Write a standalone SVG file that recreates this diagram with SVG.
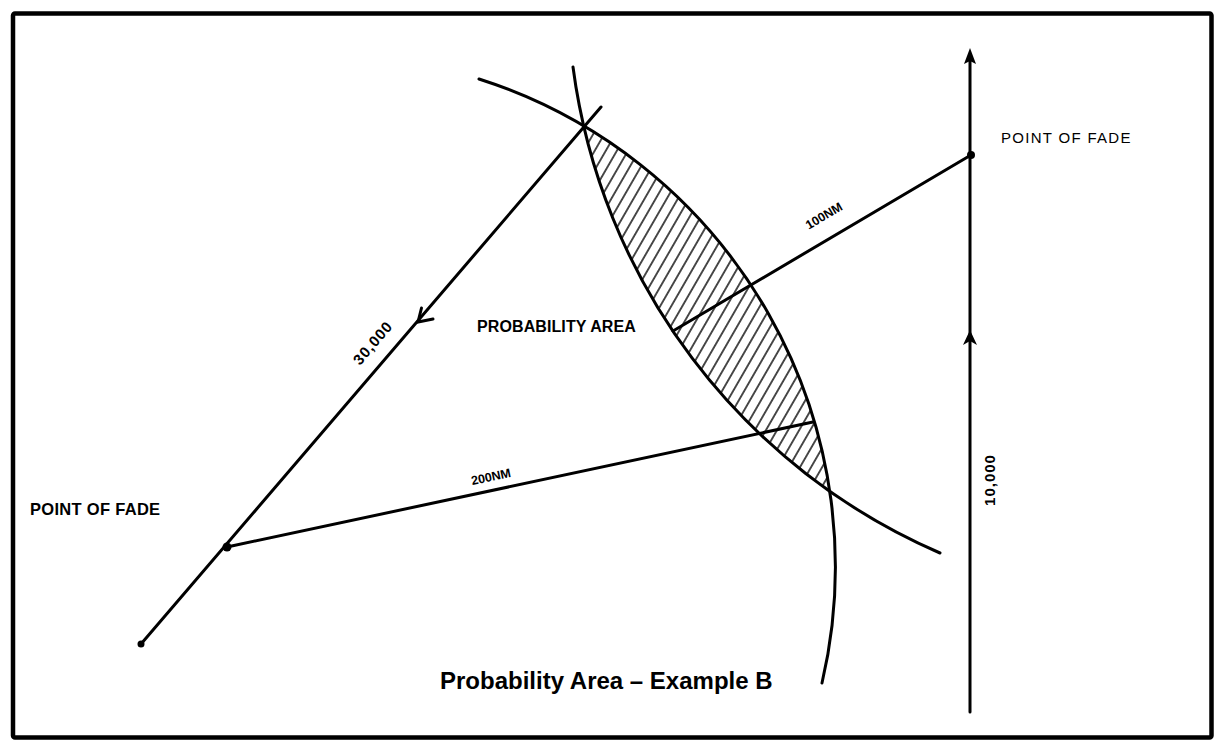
<svg xmlns="http://www.w3.org/2000/svg" width="1215" height="742" viewBox="0 0 1215 742">
<style>
.ln{fill:none;stroke:#000;stroke-width:3;stroke-linecap:round}
.lbl{font-family:"Liberation Sans",Arial,sans-serif;font-weight:bold;fill:#000}
.dot{fill:#000}
</style>
<defs>
<pattern id="hatch" patternUnits="userSpaceOnUse" width="9.6" height="20" patternTransform="rotate(30)">
<line x1="4.8" y1="-1" x2="4.8" y2="21" stroke="#000" stroke-width="1.4"/>
</pattern>
</defs>
<rect width="1215" height="742" fill="#fff"/>
<rect x="13" y="13.5" width="1198.5" height="724" fill="none" stroke="#000" stroke-width="4.5" rx="2"/>
<g id="probability-area">
<path d="M584.3,126.7 A512,512 0 0 1 829.3,490.1 A617,617 0 0 1 584.3,126.7 Z" fill="url(#hatch)"/>
<text class="lbl" x="477" y="332" font-size="16" letter-spacing="0.1">PROBABILITY AREA</text>
</g>
<g id="connectors">
<path class="ln" d="M479,79 A512,512 0 0 1 822,683"/>
<path class="ln" d="M573,67 A617,617 0 0 0 940,553"/>
<line class="ln" x1="601" y1="107" x2="141" y2="644"/>
<polyline class="ln" points="421.5,308 418,322 433,319" stroke-linejoin="miter"/>
<line class="ln" x1="227" y1="547" x2="813" y2="422"/>
<line class="ln" x1="971" y1="155" x2="673" y2="331"/>
<line class="ln" x1="970" y1="60" x2="970" y2="712"/>
<path d="M970,48 L976,64 L970,61 L964,64 Z" fill="#000"/>
<path d="M970,330 L977,345 L970,341 L963,345 Z" fill="#000"/>
</g>
<g id="fade-right">
<circle class="dot" cx="971" cy="155" r="4"/>
<text class="lbl" x="1001" y="143" font-size="15" letter-spacing="1.3" style="font-weight:normal">POINT OF FADE</text>
</g>
<g id="fade-left">
<circle class="dot" cx="227" cy="547" r="4.5"/>
<circle class="dot" cx="141" cy="644" r="3.5"/>
<text class="lbl" x="30" y="515" font-size="16.5" letter-spacing="0.3">POINT OF FADE</text>
</g>
<g id="labels">
<text class="lbl" font-size="15" text-anchor="middle" transform="translate(373,343) rotate(-49.4)" y="5" letter-spacing="1">30,000</text>
<text class="lbl" font-size="15" text-anchor="middle" transform="translate(990,480) rotate(-90)" y="5" letter-spacing="1">10,000</text>
<text class="lbl" font-size="12.5" text-anchor="middle" transform="translate(824,216) rotate(-30.6)" y="4">100NM</text>
<text class="lbl" font-size="12.5" text-anchor="middle" transform="translate(491,477) rotate(-12)" y="4">200NM</text>
</g>
<g id="title">
<text class="lbl" x="440" y="689" font-size="24">Probability Area – Example B</text>
</g>
</svg>
